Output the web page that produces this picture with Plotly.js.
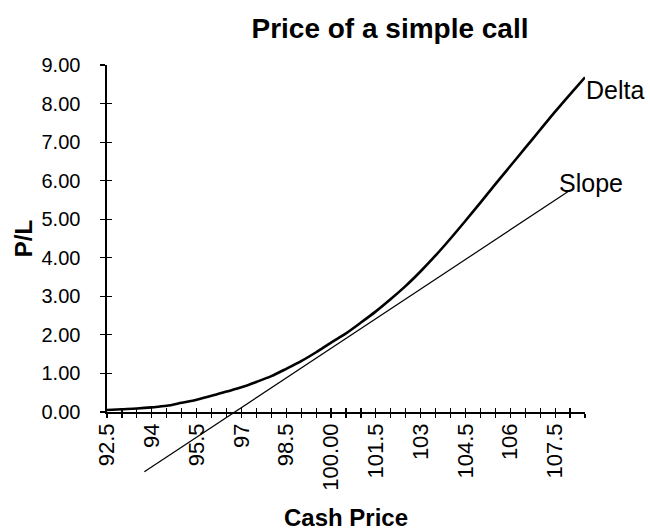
<!DOCTYPE html>
<html><head><meta charset="utf-8">
<script src="https://cdn.plot.ly/plotly-3.0.1.min.js"></script>
<style>body{margin:0;background:#fff}</style>
</head><body><div id="chart" style="width:650px;height:531px"></div>
<script>
const cashPrice = [92.5,93,93.5,94,94.5,95,95.5,96,96.5,97,97.5,98,98.5,99,99.5,100,100.5,101,101.5,102,102.5,103,103.5,104,104.5,105,105.5,106,106.5,107,107.5,108,108.5];
const deltaPL = [0.05,0.07,0.09,0.12,0.16,0.24,0.32,0.42,0.53,0.64,0.78,0.93,1.12,1.32,1.55,1.80,2.04,2.32,2.61,2.93,3.27,3.65,4.06,4.50,4.96,5.43,5.91,6.38,6.85,7.32,7.79,8.24,8.68];
const slopeX = [93.75, 108.0];
const slopeY = [-1.55, 5.75];
const xLabelValues = [92.5,94,95.5,97,98.5,100,101.5,103,104.5,106,107.5];
const xTickLabels = ["92.5","94","95.5","97","98.5","100.00","101.5","103","104.5","106","107.5"];
const yTickValues = [0,1,2,3,4,5,6,7,8,9];
const yTickLabels = ["0.00","1.00","2.00","3.00","4.00","5.00","6.00","7.00","8.00","9.00"];
const seriesLabels = ["Delta","Slope"];

const W = 650, H = 531;
const M = {l:107, r:65, t:65, b:51};
const plotH = H - M.t - M.b;
const zeroPx = 412;
const d0 = (H - M.b - zeroPx) / plotH;
const yMax = 9;
const y2Min = -yMax * d0 / (1 - d0);

const xTickText = cashPrice.map(v => {
  const i = xLabelValues.indexOf(v);
  return i >= 0 ? xTickLabels[i] : "";
});

const FONT = "Liberation Sans, Arial, sans-serif";

const traces = [
  {x: cashPrice, y: deltaPL, type: 'scatter', mode: 'lines', name: seriesLabels[0],
   line: {color: '#000', width: 2.6, shape: 'spline', smoothing: 0.8}, xaxis: 'x', yaxis: 'y', hoverinfo: 'skip'},
  {x: slopeX, y: slopeY, type: 'scatter', mode: 'lines', name: seriesLabels[1],
   line: {color: '#000', width: 1.2}, xaxis: 'x', yaxis: 'y2', hoverinfo: 'skip'},
  {x: [], y: [], type: 'scatter', mode: 'lines', xaxis: 'x2', yaxis: 'y', showlegend: false},
  {x: [], y: [], type: 'scatter', mode: 'lines', xaxis: 'x', yaxis: 'y3', showlegend: false}
];

const layout = {
  width: W, height: H,
  margin: M,
  paper_bgcolor: '#fff', plot_bgcolor: 'rgba(0,0,0,0)',
  showlegend: false,
  font: {family: FONT, color: '#000'},
  title: {text: '<b>Price of a simple call</b>', font: {family: FONT, size: 28, color: '#000'},
          xref: 'container', x: 0.6, xanchor: 'center', yref: 'container', y: 1 - 28/H, yanchor: 'middle'},
  xaxis: {
    range: [92.5, 108.5], anchor: 'y', showgrid: false, zeroline: false,
    showline: true, linecolor: '#000', linewidth: 1.6,
    tickmode: 'array', tickvals: cashPrice, ticktext: xTickText, tickangle: -90,
    ticks: 'outside', ticklen: 4, tickwidth: 1.2, tickcolor: '#000',
    tickfont: {family: FONT, size: 22, color: '#000'}, ticklabelstandoff: -3,
    title: {text: '<b>Cash Price</b>', font: {family: FONT, size: 24, color: '#000'}, standoff: 20},
    fixedrange: true
  },
  xaxis2: {
    range: [92.5, 108.5], overlaying: 'x', anchor: 'y', side: 'bottom', showgrid: false, zeroline: false,
    showline: false, tickmode: 'array', tickvals: cashPrice, showticklabels: false,
    ticks: 'inside', ticklen: 4, tickwidth: 1.2, tickcolor: '#000'
  },
  yaxis: {
    domain: [d0, 1], range: [0, yMax], anchor: 'x', showgrid: false, zeroline: false,
    showline: true, linecolor: '#000', linewidth: 1.6,
    tickmode: 'array', tickvals: yTickValues, ticktext: yTickLabels,
    ticks: 'outside', ticklen: 5, tickwidth: 1.2, tickcolor: '#000',
    tickfont: {family: FONT, size: 20, color: '#000'}, ticklabelstandoff: 16,
    title: {text: '<b>P/L</b>', font: {family: FONT, size: 24, color: '#000'}, standoff: 2},
    fixedrange: true
  },
  yaxis2: {
    domain: [0, 1], range: [y2Min, yMax], anchor: 'x', visible: false, fixedrange: true
  },
  yaxis3: {
    domain: [d0, 1], range: [0, yMax], overlaying: 'y', anchor: 'x', side: 'left', showgrid: false, zeroline: false,
    showline: false, tickmode: 'array', tickvals: yTickValues, showticklabels: false,
    ticks: 'inside', ticklen: 5, tickwidth: 1.2, tickcolor: '#000'
  },
  annotations: [
    {x: 108.45, y: 8.35, xref: 'x', yref: 'y', text: seriesLabels[0], showarrow: false,
     xanchor: 'left', yanchor: 'middle', font: {family: FONT, size: 25, color: '#000'}},
    {x: 107.55, y: 5.94, xref: 'x', yref: 'y', text: seriesLabels[1], showarrow: false,
     xanchor: 'left', yanchor: 'middle', font: {family: FONT, size: 25, color: '#000'}}
  ]
};

Plotly.newPlot('chart', traces, layout, {staticPlot: true, displayModeBar: false});
</script>
</body></html>
